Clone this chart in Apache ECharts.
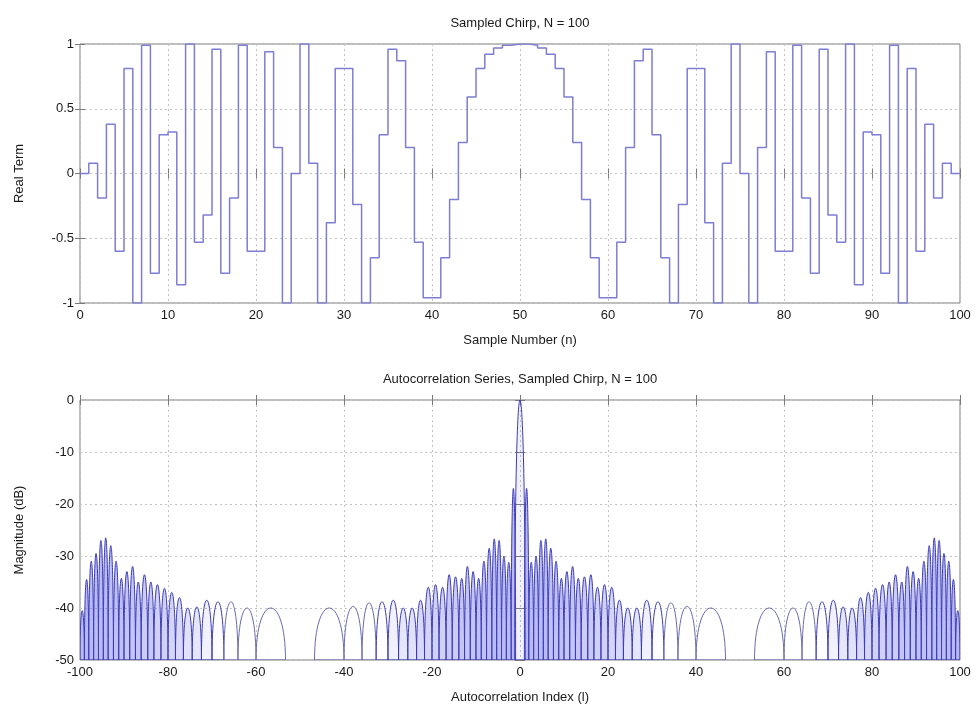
<!DOCTYPE html>
<html><head><meta charset="utf-8">
<script src="https://cdn.jsdelivr.net/npm/echarts@6/dist/echarts.min.js"></script>
<style>html,body{margin:0;padding:0;background:#fff}#c{width:978px;height:708px}</style>
</head><body><div id="c"></div>
<script>
// ---- Top panel: real term of the sampled chirp, one value per sample n = 0..99 (held until n+1)
const realTerm = [
  0, 0.08, -0.19, 0.38, -0.6, 0.81, -1, 0.99, -0.77, 0.3,
  0.32, -0.86, 1, -0.53, -0.32, 0.96, -0.77, -0.19, 0.99, -0.6,
  -0.6, 0.94, 0.2, -1, 0, 1, 0.08, -1, -0.38, 0.81,
  0.81, -0.24, -1, -0.65, 0.3, 0.96, 0.87, 0.2, -0.53, -0.96,
  -0.96, -0.65, -0.2, 0.24, 0.59, 0.81, 0.92, 0.97, 0.99, 1,
  1, 0.99, 0.97, 0.92, 0.81, 0.59, 0.24, -0.2, -0.65, -0.96,
  -0.96, -0.53, 0.2, 0.87, 0.96, 0.3, -0.65, -1, -0.24, 0.81,
  0.81, -0.38, -1, 0.08, 1, 0, -1, 0.2, 0.94, -0.6,
  -0.6, 0.99, -0.19, -0.77, 0.96, -0.32, -0.53, 1, -0.86, 0.32,
  0.3, -0.77, 0.99, -1, 0.81, -0.6, 0.38, -0.19, 0.08, 0
];
const topXTicks = {min: 0, max: 100, step: 10};
const topYTicks = {min: -1, max: 1, step: 0.5};

// ---- Bottom panel: autocorrelation magnitude (dB), one entry per lobe
// lobe start lag, lobe end lag (where the curve meets the -50 dB floor), lobe peak (dB)
const lobeStart = [
  -100, -99.0, -98.0, -96.9, -95.8, -94.7, -93.6, -92.4, -91.2, -90.0,
  -88.7, -87.4, -86.1, -84.6, -83.2, -81.6, -80.0, -78.3, -76.5, -74.5,
  -72.4, -70.0, -67.3, -64.1, -60.0, -46.7, -40.0, -35.9, -32.7, -30.0,
  -27.6, -25.5, -23.5, -21.7, -20.0, -18.4, -16.8, -15.4, -13.9, -12.6,
  -11.3, -10.0, -8.8, -7.6, -6.4, -5.3, -4.2, -3.1, -2.0, -1.2,
  1.0, 2.0, 3.1, 4.2, 5.3, 6.4, 7.6, 8.8, 10.0, 11.3,
  12.6, 13.9, 15.4, 16.8, 18.4, 20.0, 21.7, 23.5, 25.5, 27.6,
  30.0, 32.7, 35.9, 40.0, 53.3, 60.0, 64.1, 67.3, 70.0, 72.4,
  74.5, 76.5, 78.3, 80.0, 81.6, 83.2, 84.6, 86.1, 87.4, 88.7,
  90.0, 91.2, 92.4, 93.6, 94.7, 95.8, 96.9, 98.0, 99.0
];
const lobeEnd = [
  -99.0, -98.0, -96.9, -95.8, -94.7, -93.6, -92.4, -91.2, -90.0, -88.7,
  -87.4, -86.1, -84.6, -83.2, -81.6, -80.0, -78.3, -76.5, -74.5, -72.4,
  -70.0, -67.3, -64.1, -60.0, -53.3, -40.0, -35.9, -32.7, -30.0, -27.6,
  -25.5, -23.5, -21.7, -20.0, -18.4, -16.8, -15.4, -13.9, -12.6, -11.3,
  -10.0, -8.8, -7.6, -6.4, -5.3, -4.2, -3.1, -2.0, -1.0, 1.2,
  2.0, 3.1, 4.2, 5.3, 6.4, 7.6, 8.8, 10.0, 11.3, 12.6,
  13.9, 15.4, 16.8, 18.4, 20.0, 21.7, 23.5, 25.5, 27.6, 30.0,
  32.7, 35.9, 40.0, 46.7, 60.0, 64.1, 67.3, 70.0, 72.4, 74.5,
  76.5, 78.3, 80.0, 81.6, 83.2, 84.6, 86.1, 87.4, 88.7, 90.0,
  91.2, 92.4, 93.6, 94.7, 95.8, 96.9, 98.0, 99.0, 100
];
const lobePeak = [
  -40.5, -34.5, -31, -29.5, -27, -26.5, -28, -31, -34.3, -33,
  -32, -35, -33.6, -35, -35.5, -36.2, -37, -38, -40, -39.8,
  -38.5, -38.8, -38.8, -40, -40, -40, -39.7, -39, -38.8, -38.5,
  -40, -40, -38.5, -36, -35.5, -36, -33.6, -34, -34.3, -32,
  -33, -34.3, -31, -28.5, -26.7, -27, -30, -31.2, -17, 0,
  -17, -31.2, -30, -27, -26.7, -28.5, -31, -34.3, -33, -32,
  -34.3, -34, -33.6, -36, -35.5, -36, -38.5, -40, -40, -38.5,
  -38.8, -39, -39.7, -40, -40, -40, -38.8, -38.8, -38.5, -39.8,
  -40, -38, -37, -36.2, -35.5, -35, -33.6, -35, -32, -33,
  -34.3, -31, -28, -26.5, -27, -29.5, -31, -34.5, -40.5
];
const botXTicks = {min: -100, max: 100, step: 20};
const botYTicks = {min: -50, max: 0, step: 10};

const FONT = 'Liberation Sans, Arial, Helvetica, sans-serif';
const TXT = '#1a1a1a';
const FRAME = '#7a7a7a';
const GRIDC = '#c4c4c4';

function axisCommon(t, extra) {
  return Object.assign({
    type: 'value', min: t.min, max: t.max, interval: t.step,
    axisLine: {show: false},
    axisTick: {show: true, inside: true, length: 5, lineStyle: {color: FRAME}},
    axisLabel: {show: true, color: TXT, fontSize: 13, fontFamily: FONT, margin: 6},
    splitLine: {show: false}
  }, extra);
}
function mainAxis(t, grid, pos, name, gap, extra) {
  return axisCommon(t, Object.assign({
    gridIndex: grid, position: pos,
    name: name, nameLocation: 'middle', nameGap: gap,
    nameTextStyle: {color: TXT, fontSize: 13, fontFamily: FONT},
    splitLine: {show: true, lineStyle: {color: GRIDC, type: [2, 3], width: 1}}
  }, extra || {}));
}
function mirrorAxis(t, grid, pos, name, gap) {
  return axisCommon(t, {
    gridIndex: grid, position: pos,
    axisLabel: {show: false},
    name: name || '', nameLocation: 'middle', nameGap: gap || 0,
    nameTextStyle: {color: TXT, fontSize: 13, fontFamily: FONT}
  });
}

const stairData = realTerm.map((v, i) => [i, v]);
stairData.push([realTerm.length, realTerm[realTerm.length - 1]]);

const lobeData = lobeStart.map((s, i) => [s, lobeEnd[i], lobePeak[i]]);

const chart = echarts.init(document.getElementById('c'), null, {renderer: 'canvas'});
chart.setOption({
  animation: false,
  backgroundColor: '#ffffff',
  grid: [
    {left: 80, top: 44, width: 880, height: 259, show: true, borderColor: FRAME, borderWidth: 1, backgroundColor: '#fff'},
    {left: 80, top: 400, width: 880, height: 260, show: true, borderColor: FRAME, borderWidth: 1, backgroundColor: '#fff'}
  ],
  xAxis: [
    mainAxis(topXTicks, 0, 'bottom', 'Sample Number (n)', 31),
    mirrorAxis(topXTicks, 0, 'top', 'Sampled Chirp, N = 100', 14),
    mainAxis(botXTicks, 1, 'bottom', 'Autocorrelation Index (l)', 31),
    mirrorAxis(botXTicks, 1, 'top', 'Autocorrelation Series, Sampled Chirp, N = 100', 14)
  ],
  yAxis: [
    mainAxis(topYTicks, 0, 'left', 'Real Term', 54),
    mirrorAxis(topYTicks, 0, 'right'),
    mainAxis(botYTicks, 1, 'left', 'Magnitude (dB)', 54),
    mirrorAxis(botYTicks, 1, 'right')
  ],
  series: [
    {
      type: 'line', xAxisIndex: 0, yAxisIndex: 0, step: 'end',
      data: stairData, showSymbol: false, silent: true,
      lineStyle: {color: '#7d7dd4', width: 1.5}
    },
    {
      type: 'custom', xAxisIndex: 2, yAxisIndex: 2, clip: true, silent: true,
      encode: {x: [0, 1], y: 2},
      data: lobeData,
      renderItem: function (params, api) {
        const s = api.value(0), e = api.value(1), pk = api.value(2);
        const a = api.coord([s, -50]);
        const b = api.coord([e, -50]);
        const m = api.coord([(s + e) / 2, pk]);
        const cy = a[1] + (m[1] - a[1]) / 0.75;
        const w = b[0] - a[0];
        const alpha = Math.max(0, Math.min(0.55, (12 - w) / 12 * 0.75));
        const stroke = w < 12 ? '#3c3cb8' : '#6a6aae';
        return {
          type: 'path',
          shape: {pathData: 'M' + a[0] + ' ' + a[1] + ' C' + a[0] + ' ' + cy + ' ' + b[0] + ' ' + cy + ' ' + b[0] + ' ' + b[1] + ' Z'},
          style: {stroke: stroke, lineWidth: 1, fill: alpha > 0 ? 'rgba(105,105,230,' + alpha.toFixed(2) + ')' : 'none'}
        };
      }
    }
  ]
});
</script>
</body></html>
